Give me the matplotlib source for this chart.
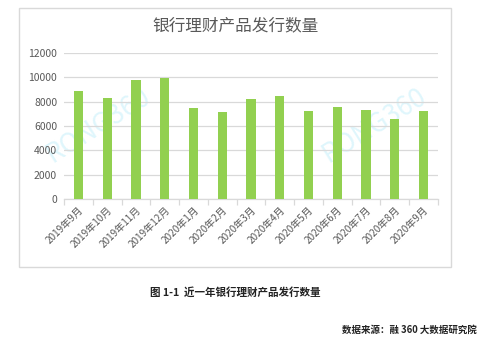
import numpy as np
import matplotlib.pyplot as plt
from matplotlib.patches import Rectangle

plt.rcParams['font.family'] = ['Noto Sans CJK SC', 'DejaVu Sans']

# data
months = ['2019年9月', '2019年10月', '2019年11月', '2019年12月', '2020年1月', '2020年2月',
          '2020年3月', '2020年4月', '2020年5月', '2020年6月', '2020年7月', '2020年8月', '2020年9月']
counts = [8880, 8300, 9800, 9960, 7480, 7150, 8220, 8470, 7230, 7560, 7310, 6580, 7230]
yticks = [0, 2000, 4000, 6000, 8000, 10000, 12000]

fig = plt.figure(figsize=(4.93, 3.39), dpi=100)
fig.patch.set_facecolor('white')

# chart border
fig.add_artist(Rectangle((0.0385, 0.212), 0.876, 0.764, transform=fig.transFigure,
                         fill=False, edgecolor='#d9d9d9', linewidth=1))

ax = fig.add_axes([0.130, 0.413, 0.758, 0.431])
ax.patch.set_visible(False)
x = np.arange(len(months))
ax.bar(x, counts, width=0.32, color='#92d050', zorder=3)

ax.set_ylim(0, 12000)
ax.set_xlim(-0.5, len(months) - 0.5)
ax.set_yticks(yticks)
ax.set_yticklabels([str(v) for v in yticks], fontsize=7.5, color='#595959')
ax.yaxis.grid(True, color='#d9d9d9', linewidth=0.9, zorder=0)
ax.tick_params(axis='y', length=0, pad=5)

ax.set_xticks(x)
ax.set_xticklabels(months, rotation=45, ha='right', rotation_mode='anchor',
                   fontsize=7.2, color='#595959')
ax.tick_params(axis='x', which='major', length=0, pad=4)
ax.set_xticks(np.arange(-0.5, len(months)), minor=True)
ax.tick_params(axis='x', which='minor', length=4, color='#d9d9d9', width=0.9)

for s in ['top', 'right', 'left']:
    ax.spines[s].set_visible(False)
ax.spines['bottom'].set_color('#d9d9d9')
ax.spines['bottom'].set_linewidth(0.9)

# watermarks (behind bars)
fig.text(0.20, 0.63, 'RONG360', fontsize=19, color='#dff6fc', rotation=32,
         ha='center', va='center', zorder=-1)
fig.text(0.76, 0.63, 'RONG360', fontsize=19, color='#dff6fc', rotation=32,
         ha='center', va='center', zorder=-1)

fig.text(0.477, 0.923, '银行理财产品发行数量', fontsize=12, color='#595959',
         ha='center', va='center')
fig.text(0.477, 0.138, '图 1-1  近一年银行理财产品发行数量', fontsize=7.6, color='#222222',
         ha='center', va='center', fontweight='bold')
fig.text(0.968, 0.027, '数据来源：融 360 大数据研究院', fontsize=6.8, color='#222222',
         ha='right', va='center', fontweight='bold')

fig.savefig('out.png', dpi=100)
